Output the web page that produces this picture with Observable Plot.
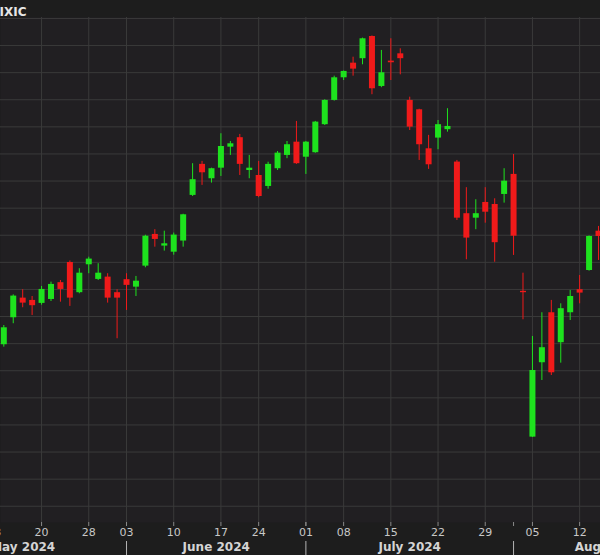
<!DOCTYPE html>
<html>
<head>
<meta charset="utf-8">
<script src="https://cdn.jsdelivr.net/npm/d3@7"></script>
<script src="https://cdn.jsdelivr.net/npm/@observablehq/plot@0.6"></script>
<style>
  html, body { margin: 0; padding: 0; background: #1d1d1d; overflow: hidden; }
  #chart { width: 600px; height: 555px; }
</style>
</head>
<body>
<div id="chart"></div>
<script>
// ---- data ----
const title = "IXIC";
const dates = [
  "2024-05-14","2024-05-15","2024-05-16","2024-05-17","2024-05-20","2024-05-21","2024-05-22","2024-05-23","2024-05-24",
  "2024-05-28","2024-05-29","2024-05-30","2024-05-31",
  "2024-06-03","2024-06-04","2024-06-05","2024-06-06","2024-06-07","2024-06-10","2024-06-11","2024-06-12","2024-06-13","2024-06-14",
  "2024-06-17","2024-06-18","2024-06-20","2024-06-21","2024-06-24","2024-06-25","2024-06-26","2024-06-27","2024-06-28",
  "2024-07-01","2024-07-02","2024-07-03","2024-07-05","2024-07-08","2024-07-09","2024-07-10","2024-07-11","2024-07-12",
  "2024-07-15","2024-07-16","2024-07-17","2024-07-18","2024-07-19","2024-07-22","2024-07-23","2024-07-24","2024-07-25","2024-07-26",
  "2024-07-29","2024-07-30","2024-07-31","2024-08-01","2024-08-02",
  "2024-08-05","2024-08-06","2024-08-07","2024-08-08","2024-08-09","2024-08-12","2024-08-13","2024-08-14"
];
const open = [
  16392,16591,16736,16719,16697,16726,16850,16999,16776,
  16982,16874,16891,16776,
  16872,16817,16972,17206,17120,17075,17157,17494,17723,17617,
  17695,17850,17920,17678,17641,17560,17691,17789,17887,
  17776,17809,18016,18195,18362,18470,18503,18667,18298,
  18485,18539,18195,18126,17838,17917,17979,17740,17359,17326,
  17442,17427,17501,17649,16786,
  15710,16259,16628,16407,16628,16798,16940,17230
];
const high = [
  16534,16760,16798,16748,16822,16854,16866,17010,16953,
  17038,16990,16916,16798,
  16916,16896,17200,17241,17230,17216,17355,17728,17745,17695,
  17949,17892,17944,17789,17745,17739,17818,17892,18040,
  17892,18040,18200,18374,18412,18514,18655,18671,18564,
  18650,18576,18219,18130,17937,18047,18134,17752,17551,17462,
  17551,17469,17691,17796,16920,
  16453,16628,16719,16694,16793,16903,17195,17265
];
const low = [
  16374,16547,16665,16608,16684,16711,16706,16675,16768,
  16916,16866,16699,16436,
  16645,16748,16960,17112,17083,17053,17112,17486,17568,17585,
  17634,17789,17641,17617,17477,17540,17678,17765,17723,
  17649,17805,18010,18190,18342,18374,18458,18237,18289,
  18342,18384,17973,17752,17686,17831,17961,17309,17019,17241,
  17289,17001,17437,17051,16576,
  15708,16128,16165,16256,16571,16694,16935,17014
];
const close = [
  16517,16751,16699,16680,16800,16837,16800,16736,16920,
  17024,16920,16736,16736,
  16830,16861,17193,17169,17137,17201,17351,17610,17661,17691,
  17855,17875,17723,17695,17486,17723,17806,17868,17728,
  17887,18035,18195,18362,18409,18426,18650,18281,18399,
  18473,18503,17998,17868,17720,18016,18003,17326,17179,17359,
  17370,17145,17599,17193,16776,
  16202,16370,16185,16658,16748,16773,17191,17191
];
const weekTicks  = ["2024-05-13","2024-05-20","2024-05-28","2024-06-03","2024-06-10","2024-06-17","2024-06-24",
                    "2024-07-01","2024-07-08","2024-07-15","2024-07-22","2024-07-29","2024-08-05","2024-08-12"];
const weekLabels = ["13","20","28","03","10","17","24","01","08","15","22","29","05","12"];
const monthStarts = ["2024-05-01","2024-06-01","2024-07-01","2024-08-01","2024-09-01"];
const monthLabels = ["May 2024","June 2024","July 2024","August 2024"];
const holidays = ["2024-05-27","2024-06-19","2024-07-04","2024-09-02"];
const priceGrid = d3.range(15200, 18801, 200);
const yDomain = [15080, 18807];
const xDomain = [-0.35, 63.21];

// ---- trading-day index (no weekend / holiday gaps) ----
const base = new Date("2024-05-14T00:00:00Z");
function isTrading(d) {
  const w = d.getUTCDay();
  return w !== 0 && w !== 6 && !holidays.includes(d.toISOString().slice(0, 10));
}
function tradingIndex(s) {
  const t = new Date(s + "T00:00:00Z");
  let n = 0;
  if (t >= base) {
    for (let d = new Date(base); d < t; d.setUTCDate(d.getUTCDate() + 1)) if (isTrading(d)) n++;
  } else {
    for (let d = new Date(t); d < base; d.setUTCDate(d.getUTCDate() + 1)) if (isTrading(d)) n--;
  }
  return n;
}

const candles = dates.map((d, k) => ({
  i: tradingIndex(d), open: open[k], high: high[k], low: low[k], close: close[k]
}));
const weekIdx = weekTicks.map(tradingIndex);
const weekLabelOf = new Map(weekIdx.map((v, k) => [v, weekLabels[k]]));
const monthIdx = monthStarts.map(tradingIndex);
const months = monthLabels.map((label, k) => ({label, mid: (monthIdx[k] + monthIdx[k + 1]) / 2}));
const sepIdx = monthIdx.slice(0, monthLabels.length);

const green = "#1ee21e";
const red = "#f01a1a";
const up = d => d.close >= d.open;
const down = d => d.close < d.open;

const chart = Plot.plot({
  width: 600,
  height: 555,
  marginTop: 17,
  marginBottom: 33,
  marginLeft: 0,
  marginRight: 0,
  style: {background: "#1d1d1d", color: "#c8c8c8", fontFamily: "DejaVu Sans", fontSize: "11px", overflow: "hidden"},
  x: {domain: xDomain, axis: null},
  y: {domain: yDomain, axis: null},
  marks: [
    Plot.frame({fill: "#211f22", stroke: "none"}),
    Plot.gridY({ticks: priceGrid, stroke: "#3a3a3a", strokeOpacity: 1}),
    Plot.gridX({ticks: weekIdx, stroke: "#3a3a3a", strokeOpacity: 1}),
    // wicks
    Plot.ruleX(candles, {filter: up, x: "i", y1: "low", y2: "high", stroke: green, strokeWidth: 1}),
    Plot.ruleX(candles, {filter: down, x: "i", y1: "low", y2: "high", stroke: red, strokeWidth: 1}),
    // bodies
    Plot.ruleX(candles, {filter: up, x: "i", y1: "open", y2: "close", stroke: green, strokeWidth: 6}),
    Plot.ruleX(candles, {filter: down, x: "i", y1: "open", y2: "close", stroke: red, strokeWidth: 6}),
    // weekly axis
    Plot.axisX({ticks: weekIdx, tickFormat: d => weekLabelOf.get(d), tickSize: 4, tickPadding: 2,
                stroke: "#8a8a8a", fill: "#c8c8c8", label: null, line: true}),
    // month-start small ticks
    Plot.axisX({ticks: sepIdx, tickFormat: () => "", tickSize: 4, stroke: "#8a8a8a", label: null}),
    // month separators
    Plot.axisX({ticks: sepIdx, tickFormat: () => "", tickSize: 15, dy: 19, stroke: "#b4b4b4", label: null}),
    // month labels
    Plot.text(months, {x: "mid", text: "label", frameAnchor: "bottom", dy: 28,
                       fontWeight: "bold", fontSize: 12, fill: "#d4d4d4"}),
    // title
    Plot.text([title], {text: d => d, frameAnchor: "top-left", dx: -1, dy: -10, textAnchor: "start",
                        fontWeight: "bold", fontSize: 12, fill: "#e6e6e6"})
  ]
});
document.getElementById("chart").append(chart);
</script>
</body>
</html>
